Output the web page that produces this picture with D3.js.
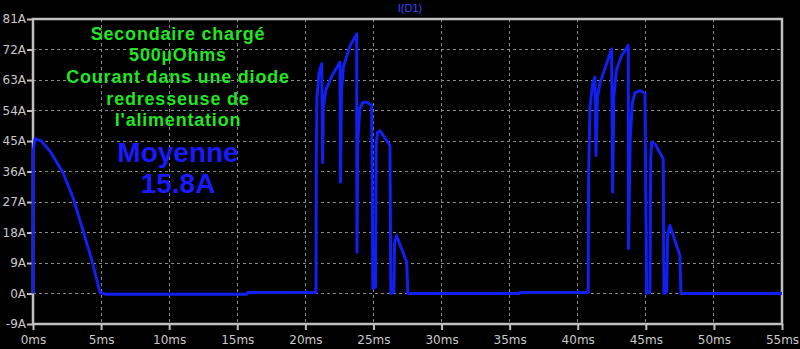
<!DOCTYPE html>
<html>
<head>
<meta charset="utf-8">
<script src="https://cdn.jsdelivr.net/npm/d3@7"></script>
<style>
body{margin:0;background:#000;}
svg{display:block;}
</style>
</head>
<body>
<script>
var timeMs = [0,0.01,0.15,0.6,1.25,2.2,2.94,3.67,4.33,4.92,5.3,15.7,15.75,
  20.78,20.8,20.85,21.0,21.2,21.27,21.32,21.5,21.93,22.54,22.58,22.65,22.8,23.27,23.77,23.79,23.85,24.0,24.2,24.5,24.87,24.96,25.15,25.2,25.3,25.48,26.21,26.28,26.5,26.55,26.7,27.44,27.53,
  35.7,35.75,
  40.77,40.8,40.9,41.1,41.26,41.34,41.45,41.63,42.49,42.56,42.65,42.85,43.2,43.71,43.73,43.85,44.0,44.2,44.57,44.94,45.06,45.3,45.36,45.43,45.7,46.28,46.33,46.53,46.6,46.77,47.5,47.58,55]
var current = [0,41.6,45.7,45,42,35.7,28.3,18.6,9.7,0.3,-0.2,-0.2,0.3,
  0.3,39,58,65,67.8,38.6,55,60,64,68.3,32.8,60,67,73,76.6,12.2,45,54.6,56.3,56.5,55.5,1.5,2,44,47.5,48,43.7,0,0.5,15,17.1,9.2,0,
  0,0.3,
  0.3,35,55,62,63.8,40.7,58,62,72.2,29.9,58,66,70,73.2,13.2,45,56,59.2,59.9,59,0,0.5,40,44.7,44,39.7,0,0.5,17,20.1,11.2,0,0]

var xTicks = [0,5,10,15,20,25,30,35,40,45,50,55]
var yTicks = [-9,0,9,18,27,36,45,54,63,72,81]
var noteLines = ["Secondaire chargé","500µOhms","Courant dans une diode","redresseuse de","l'alimentation"]
var meanLines = ["Moyenne","15.8A"]

var width = 800, height = 349
var margin = {top:19, right:18, bottom:25, left:33}

var svg = d3.select("body").append("svg")
  .attr("width", width)
  .attr("height", height)
  .style("background", "#000")

var x = d3.scaleLinear().domain([0,55]).range([margin.left, width-margin.right])
var y = d3.scaleLinear().domain([-9,81]).range([height-margin.bottom, margin.top])

// grille pointillée
svg.append("g").selectAll("line.gx")
  .data(xTicks.slice(1,-1))
  .enter().append("line")
  .attr("x1", d => x(d)).attr("x2", d => x(d))
  .attr("y1", y(81)).attr("y2", y(-9))
  .attr("stroke", "#8a8a8a").attr("stroke-dasharray", "3,3")
  .attr("shape-rendering", "crispEdges")
svg.append("g").selectAll("line.gy")
  .data(yTicks.slice(1,-1))
  .enter().append("line")
  .attr("x1", x(0)).attr("x2", x(55))
  .attr("y1", d => y(d)).attr("y2", d => y(d))
  .attr("stroke", "#8a8a8a").attr("stroke-dasharray", "3,3")
  .attr("shape-rendering", "crispEdges")

// axes
var xAxis = svg.append("g")
  .attr("transform", "translate(0," + y(-9) + ")")
  .call(d3.axisBottom(x).tickValues(xTicks).tickSize(6).tickFormat(d => d + "ms"))
var yAxis = svg.append("g")
  .attr("transform", "translate(" + x(0) + ",0)")
  .call(d3.axisLeft(y).tickValues(yTicks).tickSize(6).tickPadding(1).tickFormat(d => d + "A"))

;[xAxis, yAxis].forEach(function(g){
  g.select(".domain").remove()
  g.selectAll("line").attr("stroke", "#c0c0c0").attr("stroke-width", 2)
  g.selectAll("text").attr("fill", "#c8c8c8")
    .style("font-family", "'DejaVu Sans', sans-serif")
    .style("font-size", "12px")
})
xAxis.selectAll("text").attr("dy", "0.9em")

// cadre
svg.append("rect")
  .attr("x", x(0)).attr("y", y(81))
  .attr("width", x(55)-x(0)).attr("height", y(-9)-y(81))
  .attr("fill", "none").attr("stroke", "#c0c0c0").attr("stroke-width", 2.5)

// titre
svg.append("text")
  .attr("x", 410).attr("y", 12)
  .attr("text-anchor", "middle")
  .attr("fill", "#3c46ff")
  .style("font-family", "Arial, 'Liberation Sans', sans-serif")
  .style("font-size", "11px")
  .text("I(D1)")

// courbe
var pts = timeMs.map((t,i) => [t, current[i]])
svg.append("path")
  .datum(pts)
  .attr("fill", "none")
  .attr("stroke", "#1020f0")
  .attr("stroke-width", 3)
  .attr("stroke-linejoin", "round")
  .attr("d", d3.line().x(d => x(d[0])).y(d => y(d[1])))

// annotations
svg.append("g").selectAll("text")
  .data(noteLines)
  .enter().append("text")
  .attr("x", 178)
  .attr("y", (d,i) => 39.5 + i*21.7)
  .attr("text-anchor", "middle")
  .attr("fill", "#22e622")
  .style("font-family", "Arial, 'Liberation Sans', sans-serif")
  .style("font-weight", "bold")
  .style("font-size", "18px")
  .style("letter-spacing", "0.8px")
  .text(d => d)

svg.append("g").selectAll("text")
  .data(meanLines)
  .enter().append("text")
  .attr("x", 178)
  .attr("y", (d,i) => 162 + i*31)
  .attr("text-anchor", "middle")
  .attr("fill", "#1a1aff")
  .style("font-family", "Arial, 'Liberation Sans', sans-serif")
  .style("font-weight", "bold")
  .style("font-size", "28px")
  .text(d => d)
</script>
</body>
</html>
